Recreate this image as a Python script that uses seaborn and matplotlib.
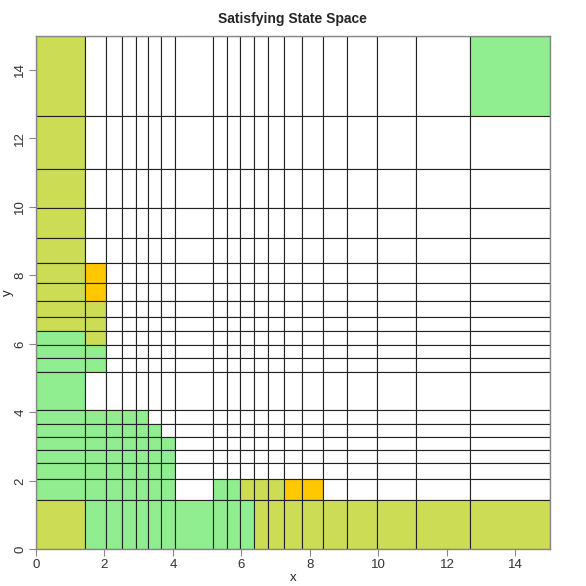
import numpy as np
import pandas as pd
import seaborn as sns
import matplotlib.pyplot as plt

# cell boundaries (same on both axes)
breaks = [0, 1.44, 2.05, 2.52, 2.91, 3.28, 3.66, 4.06, 5.17, 5.58, 5.97,
          6.37, 6.78, 7.245, 7.78, 8.375, 9.08, 9.96, 11.10, 12.66, 15]

# cell states, top row first; one char per column
# y = satisfying, g = safe, o = boundary, . = empty
state_rows = [
    "y..................g",
    "y...................",
    "y...................",
    "y...................",
    "y...................",
    "yo..................",
    "yo..................",
    "yy..................",
    "yy..................",
    "gy..................",
    "gg..................",
    "gg..................",
    "g...................",
    "ggggg...............",
    "gggggg..............",
    "ggggggg.............",
    "ggggggg.............",
    "ggggggg.............",
    "ggggggg.ggyyyoo.....",
    "yggggggggggyyyyyyyyy",
]

state_colors = {"y": "#CDDC55", "g": "#90EE90", "o": "#FFC800", ".": "white"}

n = len(breaks) - 1
recs = []
for k, row in enumerate(state_rows):
    j = n - 1 - k
    for i, s in enumerate(row):
        recs.append({"x0": breaks[i], "x1": breaks[i + 1],
                     "y0": breaks[j], "y1": breaks[j + 1], "state": s})
cells = pd.DataFrame(recs)

sns.set_style("white")
plt.rcParams["font.family"] = ["Liberation Sans", "DejaVu Sans"]

fig = plt.figure(figsize=(5.86, 5.86), dpi=100)
ax = fig.add_axes([0.0614, 0.0626, 0.9766 - 0.0614 - 0.0386, 0.939 - 0.0626])

ax.bar(cells["x0"], cells["y1"] - cells["y0"], width=cells["x1"] - cells["x0"],
       bottom=cells["y0"], align="edge",
       color=[state_colors[s] for s in cells["state"]],
       edgecolor="#222222", linewidth=0.8)

ax.set_xlim(0, 15)
ax.set_ylim(0, 15)
ax.set_xticks(range(0, 15, 2))
ax.set_yticks(range(0, 15, 2))
ax.tick_params(axis="both", direction="out", length=5, width=0.8,
               color="#888888", labelsize=9.5, labelcolor="#333333", pad=2,
               bottom=True, left=True)
plt.setp(ax.get_yticklabels(), rotation=90, va="center")
for sp in ax.spines.values():
    sp.set_color("#888888")
    sp.set_linewidth(1.0)

ax.set_title("Satisfying State Space", fontsize=10, fontweight="bold", pad=9)
ax.set_xlabel("x", fontsize=9.5, va="center")
ax.set_ylabel("y", fontsize=9.5, va="center", ha="center")
ax.xaxis.set_label_coords(0.5, -0.056)
ax.yaxis.set_label_coords(-0.054, 0.5)

plt.savefig("out.png", dpi=100)
